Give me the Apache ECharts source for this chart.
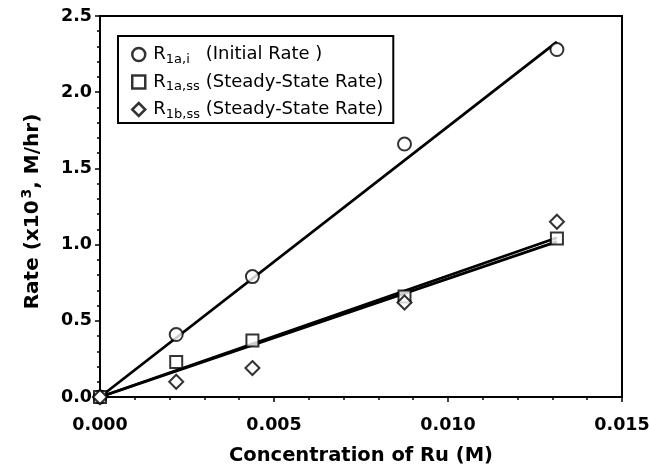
<!DOCTYPE html>
<html>
<head>
<meta charset="utf-8">
<script src="https://cdn.jsdelivr.net/npm/echarts@6/dist/echarts.min.js"></script>
<style>
  html, body { margin: 0; padding: 0; background: #fff; }
  #chart { width: 649px; height: 472px; }
</style>
</head>
<body>
<div id="chart"></div>
<script>
// measured Ru concentration (M)
const ruConc = [0, 0.00219, 0.00438, 0.00875, 0.01313];
// rates, x10^3 M/hr
const rate1aInitial = [0, 0.41, 0.79, 1.66, 2.28];
const rate1aSteady = [0, 0.23, 0.37, 0.66, 1.04];
const rate1bSteady = [0, 0.10, 0.19, 0.62, 1.15];

// linear fits, endpoints only
const fitConc = [0, 0.01313];
const fit1aInitial = [0, 2.33];
const fit1aSteady = [0, 1.02];
const fit1bSteady = [0, 1.045];

const seriesNames = ['R1a,i', 'R1a,ss', 'R1b,ss'];
const seriesSubs = ['1a,i', '1a,ss', '1b,ss'];
const seriesNotes = ['(Initial Rate )', '(Steady-State Rate)', '(Steady-State Rate)'];
const seriesSymbols = ['circle', 'rect', 'diamond'];
const seriesSizes = [13, 12, 14];

const font = 'DejaVu Sans';
const pts = (xs, ys) => xs.map((x, i) => [x, ys[i]]);

const chart = echarts.init(document.getElementById('chart'), null, { renderer: 'canvas' });

const markerStyle = { color: '#fff', borderColor: '#000', borderWidth: 2 };

const fitLine = (data) => ({
  type: 'line',
  data: data,
  symbol: 'none',
  silent: true,
  z: 1,
  lineStyle: { color: '#000', width: 2.8 }
});

const scatter = (i, data) => ({
  name: seriesNames[i],
  type: 'scatter',
  data: data,
  symbol: seriesSymbols[i],
  symbolSize: seriesSizes[i],
  z: 3,
  itemStyle: markerStyle
});

chart.setOption({
  animation: false,
  grid: {
    left: 100, right: 27, top: 16, bottom: 75,
    outerBoundsMode: 'none',
    show: true, borderColor: '#000', borderWidth: 2
  },
  legend: {
    data: seriesNames,
    orient: 'vertical',
    left: 118, top: 36,
    padding: [7, 10, 2, 13],
    itemGap: 4.5,
    itemWidth: 13, itemHeight: 13,
    borderColor: '#000', borderWidth: 2,
    itemStyle: { color: '#fff', borderColor: '#000', borderWidth: 2.5 },
    selectedMode: false,
    textStyle: {
      fontFamily: font, color: '#000',
      rich: {
        r: { fontFamily: font, fontSize: 18, color: '#000', padding: [0, 0, 0, 3], lineHeight: 21 },
        s: { fontFamily: font, fontSize: 13, color: '#000', padding: [10, 0, 0, 0], width: 38, lineHeight: 21 },
        t: { fontFamily: font, fontSize: 18, color: '#000', padding: [0, 0, 0, 2], lineHeight: 21 }
      }
    },
    formatter: (name) => {
      const i = seriesNames.indexOf(name);
      return '{r|R}{s|' + seriesSubs[i] + '}{t|' + seriesNotes[i] + '}';
    }
  },
  xAxis: {
    type: 'value',
    min: 0, max: 0.015, interval: 0.005,
    name: 'Concentration of Ru (M)',
    nameLocation: 'middle',
    nameGap: 49,
    nameTextStyle: { fontFamily: font, fontSize: 19.5, fontWeight: 'bold', color: '#000' },
    axisLine: { lineStyle: { color: '#000', width: 2 } },
    axisTick: { length: 5, lineStyle: { color: '#000', width: 1.5 } },
    minorTick: { show: true, splitNumber: 5, length: 3, lineStyle: { color: '#000', width: 1.5 } },
    splitLine: { show: false },
    axisLabel: {
      showMinLabel: true, showMaxLabel: true,
      fontFamily: font, fontSize: 17.5, fontWeight: 'bold', color: '#000', margin: 19,
      formatter: (v) => v.toFixed(3)
    }
  },
  yAxis: {
    type: 'value',
    min: 0, max: 2.5, interval: 0.5,
    name: 'Rate (x10{sup|3}, M/hr)',
    nameLocation: 'middle',
    nameGap: 54,
    nameTextStyle: {
      fontFamily: font, fontSize: 20, fontWeight: 'bold', color: '#000',
      padding: [0, 10, 0, 0],
      rich: {
        sup: { fontFamily: font, fontSize: 14, fontWeight: 'bold', color: '#000', padding: [0, 0, 12, 2] }
      }
    },
    axisLine: { lineStyle: { color: '#000', width: 2 } },
    axisTick: { length: 5, lineStyle: { color: '#000', width: 1.5 } },
    minorTick: { show: true, splitNumber: 5, length: 3, lineStyle: { color: '#000', width: 1.5 } },
    splitLine: { show: false },
    axisLabel: {
      fontFamily: font, fontSize: 17.5, fontWeight: 'bold', color: '#000', margin: 8,
      formatter: (v) => v.toFixed(1)
    }
  },
  series: [
    fitLine(pts(fitConc, fit1aInitial)),
    fitLine(pts(fitConc, fit1aSteady)),
    fitLine(pts(fitConc, fit1bSteady)),
    scatter(0, pts(ruConc, rate1aInitial)),
    scatter(1, pts(ruConc, rate1aSteady)),
    scatter(2, pts(ruConc, rate1bSteady))
  ]
});

window.addEventListener('resize', () => chart.resize());
</script>
</body>
</html>
